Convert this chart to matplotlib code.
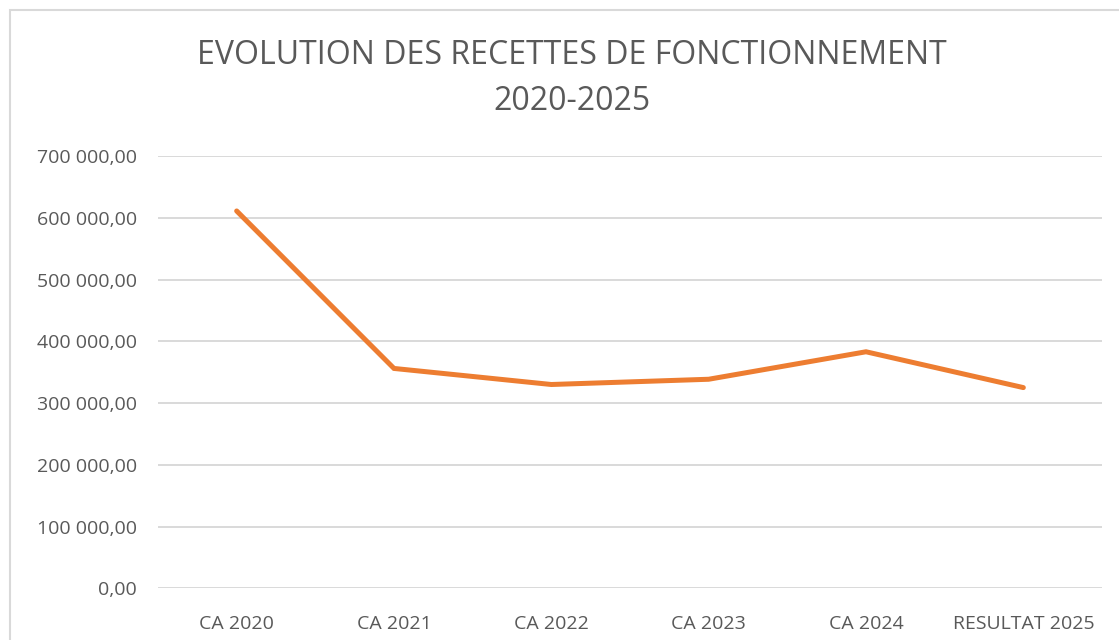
import matplotlib.pyplot as plt
from matplotlib.patches import Rectangle
from matplotlib.ticker import FuncFormatter

categories = ['CA 2020', 'CA 2021', 'CA 2022', 'CA 2023', 'CA 2024', 'RESULTAT 2025']
recettes = [611000, 356000, 330000, 338500, 383000, 325000]

plt.rcParams['font.family'] = ['Open Sans', 'DejaVu Sans']

fig = plt.figure(figsize=(11.19, 6.4), dpi=100)

# cadre du graphique (coupé à droite et en bas)
fig.patches.append(Rectangle((10 / 1119, -0.1), 1.2, 1 - 10 / 640 + 0.1,
                             transform=fig.transFigure, fill=False,
                             edgecolor='#D9D9D9', linewidth=1.5))

ax = fig.add_axes([158 / 1119, 1 - 588.3 / 640, (1102 - 158) / 1119, (588.3 - 156) / 640])

ax.plot(range(len(categories)), recettes, color='#ED7D31', linewidth=3.6,
        solid_capstyle='round', solid_joinstyle='miter', zorder=3)

ax.set_xlim(-0.5, len(categories) - 0.5)
ax.set_ylim(0, 700000)
ax.set_yticks(range(0, 700001, 100000))
ax.yaxis.set_major_formatter(FuncFormatter(
    lambda v, p: f'{v:,.2f}'.replace(',', ' ').replace('.', ',')))
ax.set_xticks(range(len(categories)))
ax.set_xticklabels(categories)

ax.grid(axis='y', color='#D9D9D9', linewidth=1.4)
ax.set_axisbelow(True)
for s in ax.spines.values():
    s.set_visible(False)
ax.tick_params(axis='both', length=0, colors='#595959', labelsize=14)
ax.tick_params(axis='y', pad=15)
ax.tick_params(axis='x', pad=19)

fig.text(0.511, 1 - 56 / 640, 'EVOLUTION DES RECETTES DE FONCTIONNEMENT',
         ha='center', va='center', fontsize=23, color='#595959')
fig.text(0.511, 1 - 102 / 640, '2020-2025',
         ha='center', va='center', fontsize=23, color='#595959')

plt.savefig('out.png', dpi=100)
